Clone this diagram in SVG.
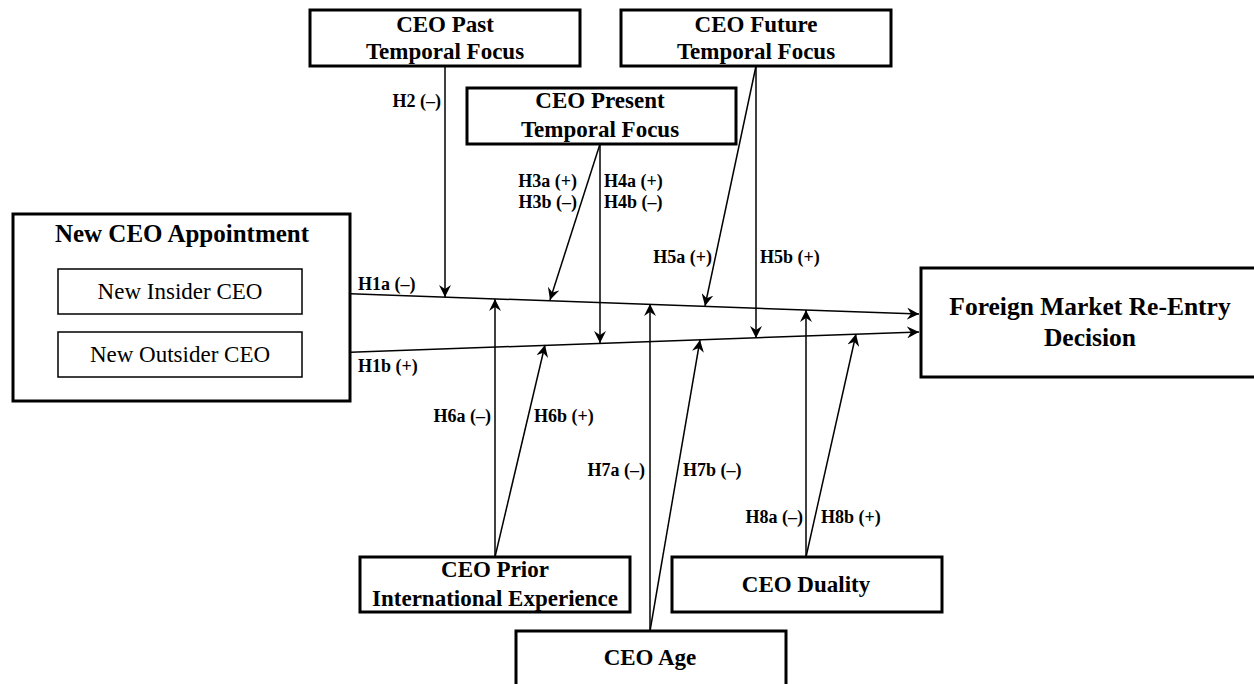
<svg xmlns="http://www.w3.org/2000/svg" width="1254" height="684" viewBox="0 0 1254 684">
<style>
.box{fill:#fff;stroke:#000;stroke-width:3}
.sub{fill:#fff;stroke:#000;stroke-width:1.5}
.t{font-family:"Liberation Serif","Times New Roman",serif;font-weight:bold;font-size:23px;text-anchor:middle;fill:#000}
.tr{font-family:"Liberation Serif","Times New Roman",serif;font-size:23px;text-anchor:middle;fill:#000}
.lb{font-family:"Liberation Serif","Times New Roman",serif;font-weight:bold;font-size:18px;fill:#000}
.c{fill:none;stroke:#000;stroke-width:1.5}
</style>
<defs>
<marker id="ah" markerUnits="userSpaceOnUse" markerWidth="13" markerHeight="12" refX="12" refY="6" orient="auto">
<path d="M0,0 L12,6 L0,12 L4,6 z" fill="#000"/>
</marker>
</defs>
<rect width="1254" height="684" fill="#fff"/>
<g id="connectors">
<line class="c" x1="302" y1="292" x2="919" y2="314" marker-end="url(#ah)"/>
<line class="c" x1="302" y1="354" x2="919" y2="332" marker-end="url(#ah)"/>
<line class="c" x1="445" y1="66" x2="445" y2="297" marker-end="url(#ah)"/>
<line class="c" x1="600" y1="144" x2="550" y2="300" marker-end="url(#ah)"/>
<line class="c" x1="600" y1="144" x2="600" y2="343" marker-end="url(#ah)"/>
<line class="c" x1="756" y1="66" x2="705" y2="306" marker-end="url(#ah)"/>
<line class="c" x1="756" y1="66" x2="756" y2="338" marker-end="url(#ah)"/>
<line class="c" x1="495" y1="557" x2="495" y2="299" marker-end="url(#ah)"/>
<line class="c" x1="495" y1="557" x2="545" y2="345" marker-end="url(#ah)"/>
<line class="c" x1="650" y1="631" x2="650" y2="304" marker-end="url(#ah)"/>
<line class="c" x1="650" y1="631" x2="700" y2="340" marker-end="url(#ah)"/>
<line class="c" x1="806" y1="557" x2="806" y2="310" marker-end="url(#ah)"/>
<line class="c" x1="806" y1="557" x2="856" y2="334" marker-end="url(#ah)"/>
<text class="lb" x="358" y="290">H1a (–)</text>
<text class="lb" x="358" y="372">H1b (+)</text>
<text class="lb" x="441" y="107" text-anchor="end">H2 (–)</text>
<text class="lb" x="577" y="187" text-anchor="end">H3a (+)</text>
<text class="lb" x="577" y="208" text-anchor="end">H3b (–)</text>
<text class="lb" x="604" y="187">H4a (+)</text>
<text class="lb" x="604" y="208">H4b (–)</text>
<text class="lb" x="712" y="263" text-anchor="end">H5a (+)</text>
<text class="lb" x="760" y="263">H5b (+)</text>
<text class="lb" x="491" y="422" text-anchor="end">H6a (–)</text>
<text class="lb" x="534" y="422">H6b (+)</text>
<text class="lb" x="645" y="476" text-anchor="end">H7a (–)</text>
<text class="lb" x="683" y="476">H7b (–)</text>
<text class="lb" x="803" y="523" text-anchor="end">H8a (–)</text>
<text class="lb" x="821" y="523">H8b (+)</text>
</g>
<g id="node-past">
<rect class="box" x="310" y="10" width="270" height="56"/>
<text class="t" x="445" y="32">CEO Past</text>
<text class="t" x="445" y="59">Temporal Focus</text>
</g>
<g id="node-future">
<rect class="box" x="621" y="10" width="270" height="56"/>
<text class="t" x="756" y="32">CEO Future</text>
<text class="t" x="756" y="59">Temporal Focus</text>
</g>
<g id="node-present">
<rect class="box" x="467" y="88" width="269" height="56"/>
<text class="t" x="600" y="108">CEO Present</text>
<text class="t" x="600" y="137">Temporal Focus</text>
</g>
<g id="node-appointment">
<rect class="box" x="13" y="214" width="337" height="187"/>
<text class="t" x="182" y="242" style="font-size:25px">New CEO Appointment</text>
</g>
<g id="node-insider">
<rect class="sub" x="58" y="269" width="244" height="45"/>
<text class="tr" x="180" y="299">New Insider CEO</text>
</g>
<g id="node-outsider">
<rect class="sub" x="58" y="332" width="244" height="45"/>
<text class="tr" x="180" y="362">New Outsider CEO</text>
</g>
<g id="node-foreign">
<rect class="box" x="921" y="268" width="340" height="109"/>
<text class="t" x="1090" y="315" style="font-size:25.5px">Foreign Market Re-Entry</text>
<text class="t" x="1090" y="346" style="font-size:25.5px">Decision</text>
</g>
<g id="node-prior">
<rect class="box" x="360" y="557" width="270" height="55"/>
<text class="t" x="495" y="577">CEO Prior</text>
<text class="t" x="495" y="606">International Experience</text>
</g>
<g id="node-duality">
<rect class="box" x="672" y="557" width="270" height="55"/>
<text class="t" x="806" y="592">CEO Duality</text>
</g>
<g id="node-age">
<rect class="box" x="516" y="631" width="270" height="60"/>
<text class="t" x="650" y="665">CEO Age</text>
</g>
</svg>
